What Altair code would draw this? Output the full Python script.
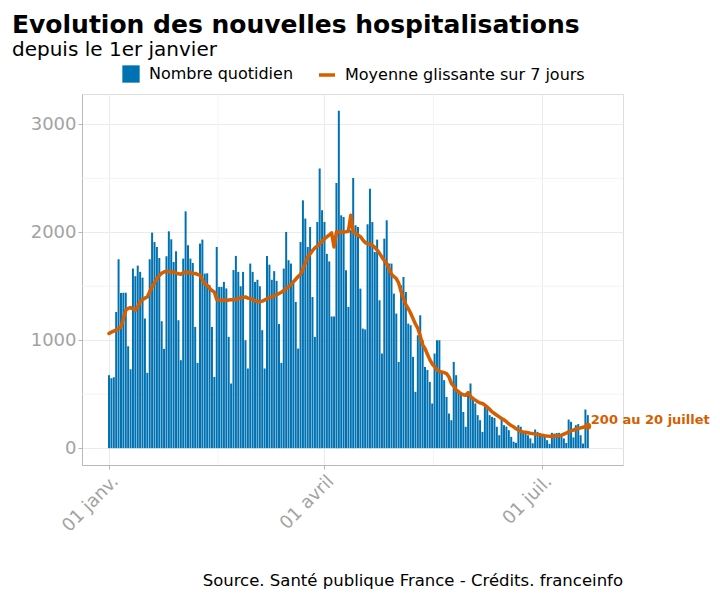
import altair as alt
import pandas as pd

titre = "Evolution des nouvelles hospitalisations"
sous_titre = "depuis le 1er janvier"
source = "Source. Santé publique France - Crédits. franceinfo"
series = ["Nombre quotidien", "Moyenne glissante sur 7 jours"]
annotation = ["200 au 20 juillet"]

premier_jour = "2021-01-01"

quotidien = [
    676, 648, 657,
    1262, 1750, 1438, 1440, 1440, 944, 731,
    1664, 1593, 1691, 1633, 1580, 1201, 698,
    1750, 1997, 1910, 1864, 1762, 1176, 920,
    1778, 2009, 1935, 1725, 1824, 1185, 815,
    1756, 2194, 1880, 1756, 1716, 1123, 790,
    1895, 1932, 1617, 1620, 1510, 1123, 660,
    1864, 1494, 1494, 1540, 1480, 1031, 599,
    1650, 1781, 1633, 1500, 1633, 1000, 738,
    1710, 1633, 1540, 1560, 1500, 1093, 738,
    1780, 1700, 1560, 1640, 1550, 1150, 790,
    1664, 2003, 1741, 1710, 1540, 1355, 923,
    1910, 2296, 2127, 1864, 2049, 1400, 1031,
    2096, 2590, 2204, 2096, 1800, 1730, 1220,
    1220, 2457, 3125, 2157, 2142, 1648, 1309,
    2019, 2503, 2065, 2049, 1478, 1108, 1100,
    2074, 2404, 2096, 1818, 1932, 1370, 877,
    1941, 2111, 1710, 1710, 1432, 1247, 799,
    1509, 1586, 1447, 1154, 1139, 846, 522,
    1046, 1231, 1000, 753, 725, 614, 414,
    877, 1000, 1000, 707, 630, 475, 321,
    259, 799, 676, 537, 520, 336, 198,
    506, 599, 475, 414, 306, 259, 151,
    383, 367, 306, 290, 280, 198, 120,
    280, 213, 200, 167, 105, 60, 50,
    213, 198, 160, 150, 120, 90, 45,
    173, 151, 140, 130, 120, 74, 40,
    142, 135, 140, 142, 120, 90, 48,
    265, 244, 100, 213, 223, 120, 43,
    358, 306,
]

moyenne = [
    1062, 1075, 1085, 1095, 1105, 1123, 1200, 1278, 1295, 1302,
    1290, 1278, 1310, 1355, 1375, 1390, 1401, 1450, 1494, 1530,
    1571, 1600, 1620, 1633, 1640, 1635, 1633, 1633, 1625, 1615,
    1611, 1625, 1633, 1630, 1625, 1618, 1618, 1610, 1602, 1560,
    1520, 1509, 1480, 1460, 1447, 1377, 1372, 1370, 1370, 1368,
    1372, 1375, 1376, 1377, 1385, 1392, 1398, 1401, 1390, 1385,
    1380, 1365, 1358, 1355, 1362, 1372, 1385, 1394, 1402, 1412,
    1422, 1432, 1445, 1460, 1478, 1494, 1515, 1540, 1565, 1590,
    1610, 1660, 1715, 1772, 1800, 1830, 1855, 1872, 1895, 1915,
    1940, 1957, 1975, 1994, 1864, 2003, 2003, 2000, 2003, 2005,
    2010, 2157, 2003, 1990, 1975, 1960, 1930, 1905, 1895, 1890,
    1880, 1860, 1835, 1805, 1770, 1740, 1710, 1660, 1610, 1590,
    1571, 1530, 1450, 1390, 1330, 1293, 1250, 1200, 1150, 1110,
    1040, 960, 923, 870, 820, 780, 755, 725, 710, 705,
    700, 691, 660, 600, 575, 540, 521, 505, 495, 490,
    515, 480, 460, 445, 430, 420, 414, 398, 380, 360,
    336, 321, 305, 290, 275, 262, 245, 225, 210, 198,
    180, 168, 155, 150, 147, 143, 138, 135, 130, 127,
    123, 120, 115, 112, 111, 111, 111, 112, 115, 120,
    130, 140, 150, 160, 168, 175, 182, 188, 194, 199,
    204,
]

y_ticks = [0, 1000, 2000, 3000]
y_minor = [500, 1500, 2500]
x_ticks = [(2021, 1, 1), (2021, 4, 1), (2021, 7, 1)]
x_tick_labels = ["01 janv.", "01 avril", "01 juil."]
x_minor = ["2021-02-15T12:00:00", "2021-05-16T12:00:00"]
x_domain = [(2020, 12, 20, 17, 17), (2021, 8, 3, 16, 48)]
y_domain = [-156, 3281]

BLEU = "#0072B2"
ORANGE = "#D55E00"
GRIS = "#a3a3a3"
FONT = "DejaVu Sans"

dates = pd.date_range(premier_jour, periods=len(quotidien), freq="D")
df = pd.DataFrame({
    "date": dates,
    "quotidien": quotidien,
    "moyenne": moyenne,
    "serie_b": series[0],
    "serie_l": series[1],
})
dernier = df.tail(1).copy()
dernier["etiquette"] = annotation[0]

label_expr = " : ".join(
    f"month(datum.value) == {m - 1} ? '{lab}'" for (_, m, _), lab in zip(x_ticks, x_tick_labels)
) + " : ''"

x_scale = alt.Scale(
    domain=[alt.DateTime(year=a, month=m, date=d, hours=h, minutes=mi) for a, m, d, h, mi in x_domain],
    nice=False, padding=0,
)
y_scale = alt.Scale(domain=y_domain, nice=False, zero=False, padding=0)

x_axis = alt.Axis(
    values=[alt.DateTime(year=a, month=m, date=d) for a, m, d in x_ticks],
    labelExpr=label_expr,
    labelAngle=315, labelAlign="right", labelBaseline="top",
    labelFontSize=18, labelColor=GRIS, labelFont=FONT, labelPadding=3,
    tickColor="#b8b8b8", tickSize=4, domainColor="#b8b8b8",
    gridColor="#ebebeb", gridWidth=1, title=None,
)
y_axis = alt.Axis(
    values=y_ticks, format="d",
    labelFontSize=18, labelColor=GRIS, labelFont=FONT, labelPadding=2,
    tickColor="#b8b8b8", tickSize=4, domainColor="#b8b8b8",
    gridColor="#ebebeb", gridWidth=1, title=None,
)

X = alt.X("date:T", scale=x_scale, axis=x_axis, title=None)

grille_y = alt.Chart(pd.DataFrame({"v": y_minor})).mark_rule(
    color="#f3f3f3", strokeWidth=1
).encode(y=alt.Y("v:Q", scale=y_scale, axis=y_axis, title=None))

grille_x = alt.Chart(pd.DataFrame({"d": pd.to_datetime(x_minor)})).mark_rule(
    color="#f3f3f3", strokeWidth=1
).encode(x=alt.X("d:T", scale=x_scale, axis=x_axis, title=None))

barres = alt.Chart(df).mark_bar(width=2.0).encode(
    x=X,
    y=alt.Y("quotidien:Q", scale=y_scale, axis=y_axis, title=None),
    fill=alt.Fill(
        "serie_b:N",
        scale=alt.Scale(domain=[series[0]], range=[BLEU]),
        legend=alt.Legend(
            title=None, orient="none", legendX=40, legendY=-29,
            symbolType="square", symbolSize=300, symbolStrokeWidth=0,
            labelFontSize=16, labelFont=FONT, labelColor="black",
            labelOffset=9, padding=0, labelLimit=400,
        ),
    ),
)

ligne = alt.Chart(df).mark_line(strokeWidth=3.5, strokeJoin="round", strokeCap="round").encode(
    x=X,
    y=alt.Y("moyenne:Q", scale=y_scale),
    stroke=alt.Stroke(
        "serie_l:N",
        scale=alt.Scale(domain=[series[1]], range=[ORANGE]),
        legend=alt.Legend(
            title=None, orient="none", legendX=235, legendY=-29,
            symbolType="stroke", symbolSize=256, symbolStrokeWidth=3.5,
            labelFontSize=16, labelFont=FONT, labelColor="black",
            labelOffset=8, padding=0, labelLimit=400,
        ),
    ),
)

point = alt.Chart(dernier).mark_circle(size=45, color=ORANGE, opacity=1).encode(
    x=X, y=alt.Y("moyenne:Q", scale=y_scale)
)

etiquette = alt.Chart(dernier).mark_text(
    align="left", baseline="middle", dx=3, dy=-6,
    fontSize=13, fontWeight="bold", color=ORANGE, font=FONT,
).encode(x=X, y=alt.Y("moyenne:Q", scale=y_scale), text="etiquette:N")

t_titre = alt.Chart(pd.DataFrame({"t": [titre]})).mark_text(
    align="left", baseline="alphabetic", fontSize=25, fontWeight="bold", color="black", font=FONT
).encode(text="t:N", x=alt.value(-70), y=alt.value(-61))

t_sous = alt.Chart(pd.DataFrame({"t": [sous_titre]})).mark_text(
    align="left", baseline="alphabetic", fontSize=20, color="black", font=FONT
).encode(text="t:N", x=alt.value(-70), y=alt.value(-38))

t_source = alt.Chart(pd.DataFrame({"t": [source]})).mark_text(
    align="right", baseline="alphabetic", fontSize=16.5, color="black", font=FONT
).encode(text="t:N", x=alt.value(541), y=alt.value(492))

chart = alt.layer(
    grille_y, grille_x, barres, ligne, point, etiquette, t_titre, t_sous, t_source
).properties(
    width=541, height=371,
    autosize=alt.AutoSizeParams(type="none"),
    padding={"left": 74, "top": 86, "right": 89, "bottom": 124},
).configure_view(stroke=None).configure(font=FONT)

chart.save("out.html", embed_options={"renderer": "svg", "actions": False})
